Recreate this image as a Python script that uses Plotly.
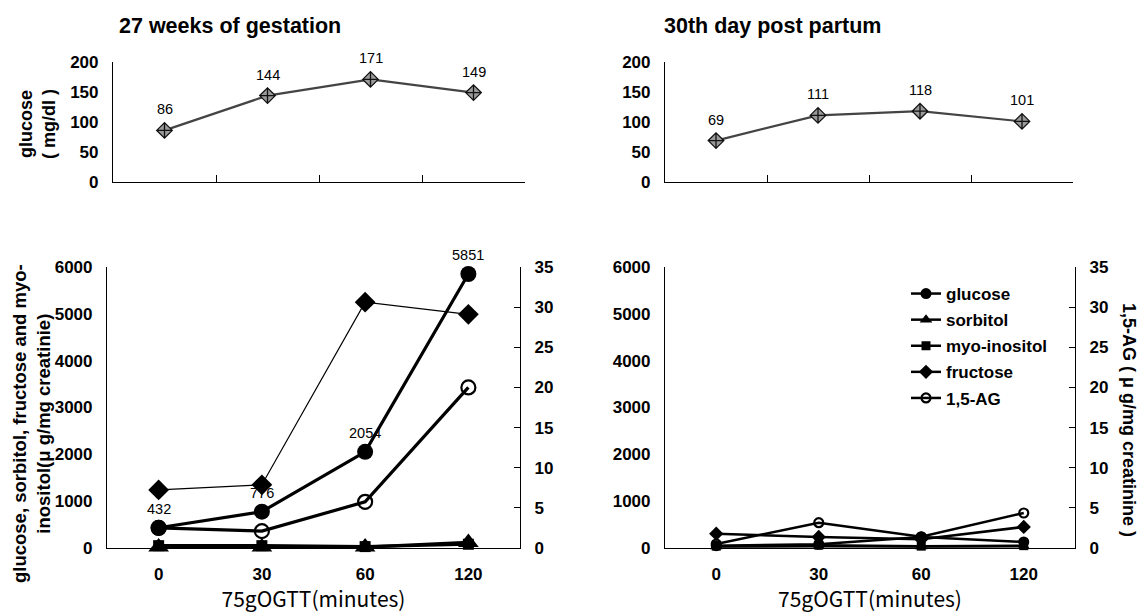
import plotly.graph_objects as go

# page body has an 8px margin: size the figure so it fits the 1146x613 window
OFF = 8
FW, FH = 1146 - OFF, 613 - OFF

minutes = ["0", "30", "60", "120"]

# Top panels: blood glucose (mg/dl)
bg_gest = [86, 144, 171, 149]
bg_post = [69, 111, 118, 101]

# Bottom-left: 27 weeks of gestation (µg/mg creatinine)
glu_gest = [432, 776, 2054, 5851]
sor_gest = [20, 20, 20, 120]
myo_gest = [50, 50, 30, 80]
fru_gest = [1240, 1350, 5250, 4990]
ag_gest = [2.5, 2.1, 5.75, 20.0]

# Bottom-right: 30th day post partum
glu_post = [50, 80, 235, 130]
sor_post = [30, 40, 30, 40]
myo_post = [40, 60, 40, 50]
fru_post = [305, 235, 185, 450]
ag_post = [0.5, 3.15, 1.4, 4.36]

FONT = "Liberation Sans"
JP = "Noto Sans CJK JP"


def px(x):
    return (x - OFF) / FW


def py(y):
    return 1 - (y - OFF) / FH


fig = go.Figure()

# ---------- top panels ----------
for xa, ya, vals in (("x", "y", bg_gest), ("x2", "y2", bg_post)):
    fig.add_trace(go.Scatter(
        x=minutes, y=vals, xaxis=xa, yaxis=ya, mode="lines+markers",
        line=dict(color="#444444", width=2.2),
        marker=dict(symbol="diamond-cross", size=12, color="#9a9a9a",
                    line=dict(color="#111111", width=1.3)),
        showlegend=False, hoverinfo="skip", cliponaxis=False))
    for i, v in enumerate(vals):
        fig.add_annotation(x=i, y=v, xref=xa, yref=ya, text=str(v),
                           showarrow=False, yshift=21,
                           font=dict(family=FONT, size=14.5, color="black"))


# ---------- bottom panels ----------
def add_bottom(xa, ya, yr, glu, sor, myo, fru, ag, big, legend):
    msz = 16 if big else 11
    lw_main = 3.2 if big else 2.5
    common = dict(x=minutes, xaxis=xa, mode="lines+markers", hoverinfo="skip",
                  cliponaxis=False)
    fig.add_trace(go.Scatter(y=myo, yaxis=ya, name="myo-inositol", legendgroup="c",
                             line=dict(color="black", width=lw_main),
                             marker=dict(symbol="square", size=msz - 5 if big else msz - 2,
                                         color="black"),
                             showlegend=legend, legendrank=3, **common))
    fig.add_trace(go.Scatter(y=sor, yaxis=ya, name="sorbitol", legendgroup="b",
                             line=dict(color="black", width=lw_main),
                             marker=dict(symbol="triangle-up", size=msz + 2 if big else msz,
                                         color="black"),
                             showlegend=legend, legendrank=2, **common))
    fig.add_trace(go.Scatter(y=fru, yaxis=ya, name="fructose", legendgroup="d",
                             line=dict(color="black", width=1.2 if big else lw_main),
                             marker=dict(symbol="diamond", size=msz, color="black"),
                             showlegend=legend, legendrank=4, **common))
    fig.add_trace(go.Scatter(y=ag, yaxis=yr, name="1,5-AG", legendgroup="e",
                             line=dict(color="black", width=lw_main),
                             marker=dict(symbol="circle-open", size=msz - 2, color="black",
                                         line=dict(width=2.2)),
                             showlegend=legend, legendrank=5, **common))
    fig.add_trace(go.Scatter(y=glu, yaxis=ya, name="glucose", legendgroup="a",
                             line=dict(color="black", width=lw_main),
                             marker=dict(symbol="circle", size=msz, color="black"),
                             showlegend=legend, legendrank=1, **common))


add_bottom("x3", "y3", "y4", glu_gest, sor_gest, myo_gest, fru_gest, ag_gest, True, False)
add_bottom("x4", "y5", "y6", glu_post, sor_post, myo_post, fru_post, ag_post, False, True)

for i, v in enumerate(glu_gest):
    fig.add_annotation(x=i, y=v, xref="x3", yref="y3", text=str(v),
                       showarrow=False, yshift=19,
                       font=dict(family=FONT, size=14.5, color="black"))

tickfont = dict(family=FONT, size=17, color="black", weight="bold")

top_y = [py(182), py(62)]
bot_y = [py(548), py(267)]

xtop = dict(type="category", range=[-0.5, 3.5], showline=True, linecolor="black",
            linewidth=1.2, ticks="inside", tickson="boundaries", ticklen=7,
            tickcolor="black", showticklabels=False, showgrid=False, zeroline=False,
            automargin=False)
xbot = dict(type="category", range=[-0.5, 3.5], showline=True, linecolor="black",
            linewidth=1.2, ticks="", showgrid=False, zeroline=False, automargin=False,
            tickfont=dict(family=FONT, size=17, color="black", weight="bold"),
            ticklabelstandoff=10,
            title=dict(text="75gOGTT(minutes)",
                       font=dict(family=JP, size=21, color="black"), standoff=10))

ytop = dict(range=[0, 200], dtick=50, showline=True, linecolor="black", linewidth=1.2,
            ticks="", showgrid=False, zeroline=False, tickfont=tickfont,
            ticklabelstandoff=10, automargin=False)
yleft = dict(range=[0, 6000], dtick=1000, showline=True, linecolor="black", linewidth=1.2,
             ticks="", showgrid=False, zeroline=False, tickfont=tickfont,
             ticklabelstandoff=10, automargin=False)
yright = dict(range=[0, 35], dtick=5, showline=True, linecolor="black", linewidth=1.2,
              ticks="inside", ticklen=6, tickcolor="black", side="right",
              showgrid=False, zeroline=False, tickfont=tickfont, ticklabelstandoff=10,
              automargin=False)

fig.update_layout(
    width=FW, height=FH,
    margin=dict(l=0, r=0, t=0, b=0, pad=0, autoexpand=False),
    paper_bgcolor="white", plot_bgcolor="white",
    font=dict(family=FONT, color="black"),
    xaxis=dict(domain=[px(113), px(525)], anchor="y", **xtop),
    xaxis2=dict(domain=[px(665), px(1073)], anchor="y2", **xtop),
    xaxis3=dict(domain=[px(107), px(520)], anchor="y3", **xbot),
    xaxis4=dict(domain=[px(665), px(1075)], anchor="y5", **xbot),
    yaxis=dict(domain=top_y, anchor="x", **ytop),
    yaxis2=dict(domain=top_y, anchor="x2", **ytop),
    yaxis3=dict(domain=bot_y, anchor="x3", **yleft),
    yaxis4=dict(domain=bot_y, anchor="x3", overlaying="y3", **yright),
    yaxis5=dict(domain=bot_y, anchor="x4", **yleft),
    yaxis6=dict(domain=bot_y, anchor="x4", overlaying="y5", **yright),
    legend=dict(x=px(906), y=py(276), xanchor="left", yanchor="top",
                bgcolor="rgba(0,0,0,0)", tracegroupgap=1,
                font=dict(family=FONT, size=17, color="black", weight="bold")),
)

# titles
fig.add_annotation(x=px(117), y=py(26), xref="paper", yref="paper", xanchor="left",
                   yanchor="middle", showarrow=False, text="27 weeks of gestation",
                   font=dict(family=FONT, size=21.5, color="black", weight="bold"))
fig.add_annotation(x=px(662), y=py(26), xref="paper", yref="paper", xanchor="left",
                   yanchor="middle", showarrow=False, text="30th day post partum",
                   font=dict(family=FONT, size=21.5, color="black", weight="bold"))

# axis titles
fig.add_annotation(x=px(38), y=py(124), xref="paper", yref="paper", textangle=-90,
                   xanchor="center", yanchor="middle",
                   showarrow=False, text="glucose<br>( mg/dl )",
                   font=dict(family=FONT, size=18, color="black", weight="bold"))
fig.add_annotation(x=px(31), y=py(424), xref="paper", yref="paper", textangle=-90,
                   xanchor="center", yanchor="middle",
                   showarrow=False,
                   text="glucose, sorbitol, fructose and myo-<br>inositol(μ g/mg creatinie)",
                   font=dict(family=FONT, size=18.5, color="black", weight="bold"))
fig.add_annotation(x=px(1129), y=py(420), xref="paper", yref="paper", textangle=90,
                   xanchor="center", yanchor="middle",
                   showarrow=False, text="1,5-AG ( μ g/mg creatinine )",
                   font=dict(family=FONT, size=18, color="black", weight="bold"))

fig.write_html("out.html")
